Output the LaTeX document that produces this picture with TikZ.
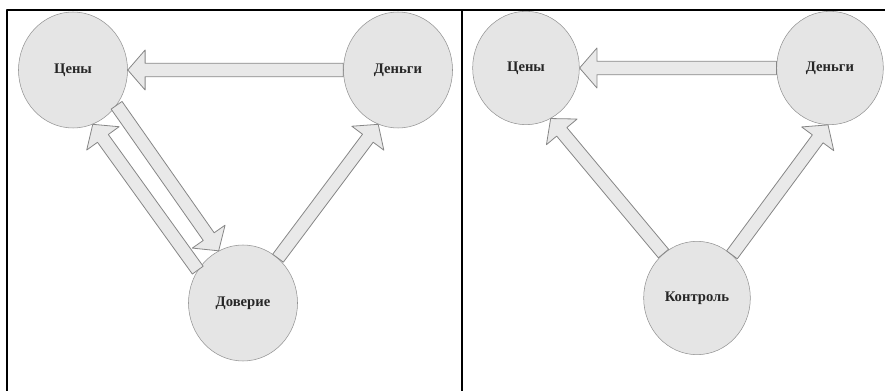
\documentclass[tikz,border=0pt]{standalone}
\usepackage{fontspec}
\setmainfont{Liberation Serif}
\usetikzlibrary{calc, shapes.geometric}

\begin{document}
\begin{tikzpicture}[x=0.75pt, y=0.75pt, line join=round]
	
	%======================
	% PARAMETERS (edit here)
	%======================
	\def\shaft{5pt}      % half width of the arrow body
	\def\headw{15pt}     % half width of the arrow head
	\def\headl{13pt}     % length of the arrow head
	
	% Styles
	\tikzset{
		bubble/.style={ellipse, draw=gray!85, fill=gray!20, inner sep=0pt,
			minimum width=81.75pt, minimum height=87pt,
			font=\fontsize{11}{13}\selectfont\bfseries, text=black!85},
		bubbleR/.style={bubble, minimum width=80pt, minimum height=85pt},
		fatarrow/.style={draw=gray!95, fill=gray!17, line width=0.6pt},
		frameline/.style={line width=0.9pt, black}
	}
	
	% block arrow from #1 (tail) to #2 (tip)
	\def\fatarrow#1#2{%
		\coordinate (fa-a) at (#1);
		\coordinate (fa-b) at (#2);
		\coordinate (fa-c) at ($(fa-b)!\headl!(fa-a)$);
		\draw[fatarrow] ($(fa-a)!\shaft!90:(fa-b)$) -- ($(fa-c)!\shaft!90:(fa-b)$)
		-- ($(fa-c)!\headw!90:(fa-b)$) -- (fa-b) -- ($(fa-c)!\headw!-90:(fa-b)$)
		-- ($(fa-c)!\shaft!-90:(fa-b)$) -- ($(fa-a)!\shaft!-90:(fa-b)$) -- cycle;}
	
	\useasboundingbox (0,0) rectangle (885,-391);
	
	%======================
	% PANEL 1: prices, money, trust
	%======================
	\node[bubble] (cenL) at (73,-70) {Цены};
	\node[bubble] (denL) at (398,-70) {Деньги};
	\node[bubble] (dov)  at (243,-303) {Доверие};
	
	\fatarrow{denL.west}{cenL.east}
	\fatarrow{dov.52}{denL.250}
	\fatarrow{cenL.321}{dov.115}
	\fatarrow{dov.144}{cenL.290}
	
	%======================
	% PANEL 2: prices, money, control
	%======================
	\node[bubbleR] (cenR) at (526,-68) {Цены};
	\node[bubbleR] (denR) at (830,-68) {Деньги};
	\node[bubbleR] (kon)  at (697,-298) {Контроль};
	
	\fatarrow{denR.west}{cenR.east}
	\fatarrow{kon.127}{cenR.296}
	\fatarrow{kon.51}{denR.268}
	
	% frame
	\draw[frameline] (7,-391) -- (7,-10) -- (885,-10);
	\draw[frameline] (462,-10) -- (462,-391);
\end{tikzpicture}
\end{document}
